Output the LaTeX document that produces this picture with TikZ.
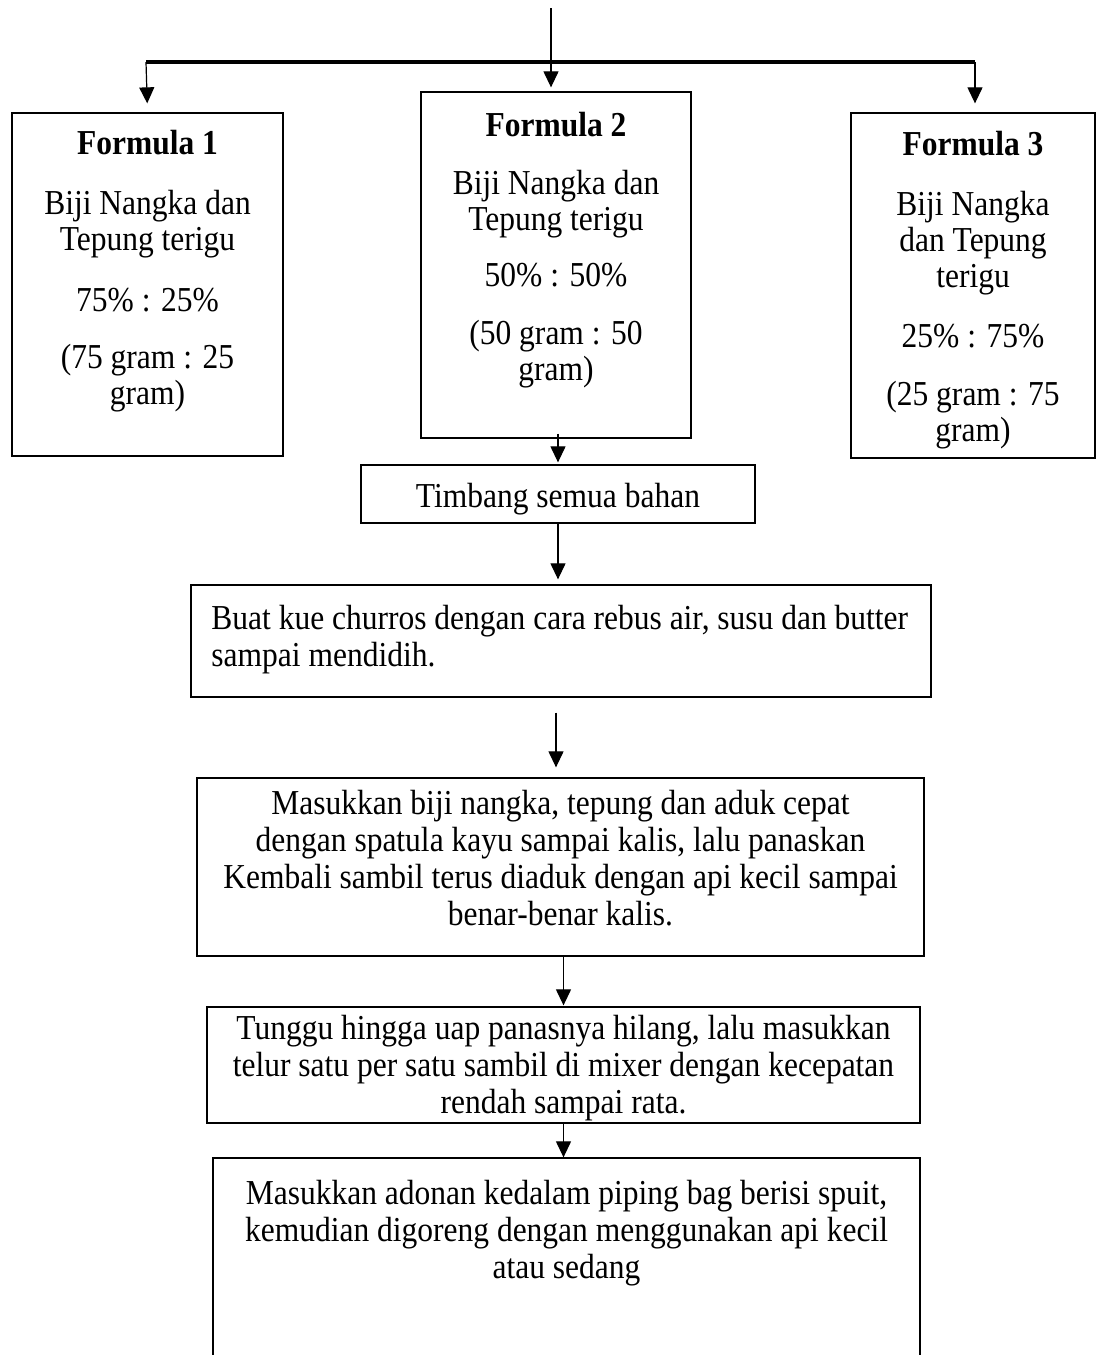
\documentclass[tikz,border=0pt]{standalone}
\usepackage{fontspec}
\setmainfont{Liberation Serif}[FakeStretch=0.9]
\usetikzlibrary{arrows.meta}
\tikzset{
  boxline/.style={draw, line width=0.65pt, inner sep=0pt},
  rtext/.style={inner sep=0pt, align=center, font=\fontsize{17.5pt}{18pt}\selectfont},
  stext/.style={inner sep=0pt, align=center, font=\fontsize{17.5pt}{18.5pt}\selectfont},
  flow/.style={-{Triangle[length=8pt,width=7.5pt]}, line width=0.6pt},
}

\begin{document}
\begin{tikzpicture}[x=0.5pt, y=-0.5pt]
  \useasboundingbox (0,0) rectangle (1097,1355);
  % top line and the bar splitting into the three formulas
  \coordinate (src) at (551,8);
  \coordinate (barL) at (146,62);
  \coordinate (barR) at (975,62);
  \draw[line width=1.7pt] (barL) -- (barR);
  % formula boxes (text placed by the baseline of its last line)
  \node[boxline, minimum width=135.5pt, minimum height=171.5pt] (f1) at (147.5,284.5) {};
  \node[boxline, minimum width=135pt, minimum height=173pt] (f2) at (556,265) {};
  \node[boxline, minimum width=122pt, minimum height=172.5pt] (f3) at (973,285.5) {};
  \node[rtext, anchor=base] (f1t) at (147.5,404)
    {\textbf{Formula 1}\\[12pt] Biji Nangka dan\\ Tepung terigu\\[12.5pt] 75\% : 25\%\\[10.5pt] (75 gram : 25\\ gram)};
  \node[rtext, anchor=base] (f2t) at (556,380)
    {\textbf{Formula 2}\\[11pt] Biji Nangka dan\\ Tepung terigu\\[10pt] 50\% : 50\%\\[11pt] (50 gram : 50\\ gram)};
  \node[rtext, anchor=base] (f3t) at (973,441)
    {\textbf{Formula 3}\\[12pt] Biji Nangka\\ dan Tepung\\ terigu\\[12pt] 25\% : 75\%\\[11pt] (25 gram : 75\\ gram)};
  \draw[flow, shorten >=2pt] (src) -- (src |- f2.north);
  \draw[flow, shorten >=4.5pt] (barL) -- (f1.north);
  \draw[flow, shorten >=4.5pt] (barR) -- (barR |- f3.north);
  % process steps
  \node[boxline, stext, minimum width=197pt, minimum height=29pt, text height=14.5pt, text depth=1.5pt] (tb) at (558,494) {Timbang semua bahan};
  \node[boxline, minimum width=370pt, minimum height=56pt] (buat) at (561,641) {};
  \node[stext, align=left, anchor=base west] (buatt) at (211,666)
    {Buat kue churros dengan cara rebus air, susu dan butter\\ sampai mendidih.};
  \node[boxline, minimum width=363.5pt, minimum height=89pt] (masuk) at (560.5,867) {};
  \node[stext, anchor=base] (masukt) at (560.5,925)
    {Masukkan biji nangka, tepung dan aduk cepat\\ dengan spatula kayu sampai kalis, lalu panaskan\\
     Kembali sambil terus diaduk dengan api kecil sampai\\ benar-benar kalis.};
  \node[boxline, minimum width=356.5pt, minimum height=58pt] (tunggu) at (563.5,1065) {};
  \node[stext, anchor=base] (tunggut) at (563.5,1113)
    {Tunggu hingga uap panasnya hilang, lalu masukkan\\ telur satu per satu sambil di mixer dengan kecepatan\\ rendah sampai rata.};
  \node[boxline, minimum width=353.5pt, minimum height=121pt] (goreng) at (566.5,1279) {};
  \node[stext, anchor=base] (gorengt) at (566.5,1278)
    {Masukkan adonan kedalam piping bag berisi spuit,\\ kemudian digoreng dengan menggunakan api kecil\\ atau sedang};
  % connectors between the steps
  \draw[flow, shorten <=-2.5pt, shorten >=1pt] (f2.south -| tb.north) -- (tb.north);
  \draw[flow, shorten >=2.5pt] (tb.south) -- (tb.south |- buat.north);
  \draw[flow, shorten <=7.5pt, shorten >=5pt] ([xshift=-2.5pt]buat.south) -- ([xshift=-2.5pt]buat.south |- masuk.north);
  \draw[flow, shorten >=0.5pt] (tunggu.north |- masuk.south) -- (tunggu.north);
  \draw[flow] (tunggu.south) -- (tunggu.south |- goreng.north);
\end{tikzpicture}
\end{document}
